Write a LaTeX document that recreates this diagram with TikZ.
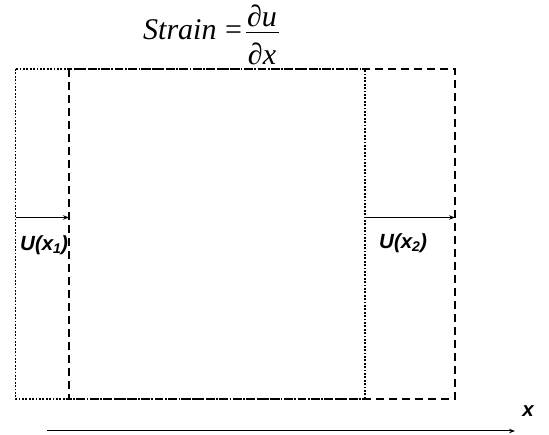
\documentclass[tikz,border=0pt]{standalone}
\usepackage{fontspec}
\setmainfont{Liberation Serif}
\newfontfamily\lsans{Liberation Sans}
\usetikzlibrary{arrows.meta}
\begin{document}
\begin{tikzpicture}[x=1pt,y=-1pt,
  dotline/.style={line width=1.8pt, dash pattern=on 1.8pt off 1.6pt},
  dashline/.style={line width=1.7pt, dash pattern=on 8pt off 5pt},
  disp/.style={-{Stealth[length=6pt,width=4.5pt]}, line width=1pt},
  lab/.style={font=\lsans\bfseries\itshape\fontsize{20.5}{20.5}\selectfont, inner sep=0pt},
  frm/.style={font=\fontsize{30}{30}\selectfont, inner sep=0pt}]
\useasboundingbox (0,0) rectangle (549,435);
% formula
\node[frm, anchor=base west] (strain) at (143,40) {\itshape Strain};
\node[frm, anchor=base] (eq) at (233.5,40) {=};
\node[frm, anchor=base] (num) at (262,27) {\itshape ∂u};
\node[frm, anchor=base] (den) at (262,65) {\itshape ∂x};
\coordinate (barL) at (246,33);
\coordinate (barR) at (279,33);
\draw[line width=1pt] (barL) -- (barR);
% rectangles
\coordinate (A1) at (15.5,69);
\coordinate (A2) at (365,399);
\coordinate (B1) at (69,69);
\coordinate (B2) at (455,399);
\draw[dotline] (A1) rectangle (A2);
\draw[dashline] (B1) rectangle (B2);
% displacement arrows
\coordinate (p1) at (15.5,217.5);
\coordinate (q1) at (69,217.5);
\coordinate (p2) at (365,217.5);
\coordinate (q2) at (455,217.5);
\draw[disp] (p1) -- (q1);
\draw[disp] (p2) -- (q2);
\node[lab, anchor=west] (u1) at (20,245) {U(x\raisebox{-0.3ex}{\fontsize{14}{14}\selectfont 1})};
\node[lab, anchor=west] (u2) at (379,243) {U(x\raisebox{-0.3ex}{\fontsize{14}{14}\selectfont 2})};
% axis
\coordinate (ax0) at (47,431);
\coordinate (ax1) at (515,431);
\draw[disp] (ax0) -- (ax1);
\node[lab, anchor=center] (xl) at (528,411) {x};
\end{tikzpicture}
\end{document}
